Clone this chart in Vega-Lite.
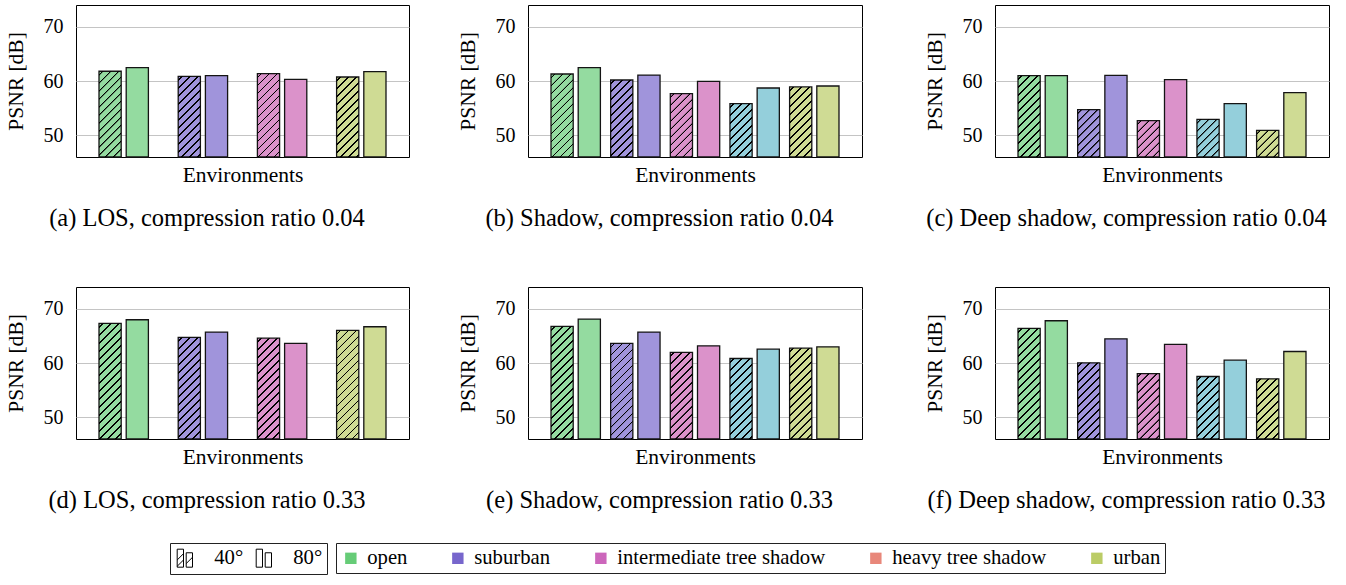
{
  "$schema": "https://vega.github.io/schema/vega-lite/v6.json",
  "padding": {"left": 4, "right": 5, "top": 4, "bottom": 5},
  "background": "white",
  "data": {"values": [
    {"p": "a", "env": "open", "ang": "40°", "v": 61.8},
    {"p": "a", "env": "open", "ang": "80°", "v": 62.45},
    {"p": "a", "env": "suburban", "ang": "40°", "v": 60.86},
    {"p": "a", "env": "suburban", "ang": "80°", "v": 60.98},
    {"p": "a", "env": "intermediate tree shadow", "ang": "40°", "v": 61.35},
    {"p": "a", "env": "intermediate tree shadow", "ang": "80°", "v": 60.31},
    {"p": "a", "env": "urban", "ang": "40°", "v": 60.74},
    {"p": "a", "env": "urban", "ang": "80°", "v": 61.72},
    {"p": "b", "env": "open", "ang": "40°", "v": 61.29},
    {"p": "b", "env": "open", "ang": "80°", "v": 62.45},
    {"p": "b", "env": "suburban", "ang": "40°", "v": 60.18},
    {"p": "b", "env": "suburban", "ang": "80°", "v": 61.1},
    {"p": "b", "env": "intermediate tree shadow", "ang": "40°", "v": 57.67},
    {"p": "b", "env": "intermediate tree shadow", "ang": "80°", "v": 59.94},
    {"p": "b", "env": "heavy tree shadow", "ang": "40°", "v": 55.83},
    {"p": "b", "env": "heavy tree shadow", "ang": "80°", "v": 58.71},
    {"p": "b", "env": "urban", "ang": "40°", "v": 58.9},
    {"p": "b", "env": "urban", "ang": "80°", "v": 59.08},
    {"p": "c", "env": "open", "ang": "40°", "v": 60.98},
    {"p": "c", "env": "open", "ang": "80°", "v": 60.98},
    {"p": "c", "env": "suburban", "ang": "40°", "v": 54.72},
    {"p": "c", "env": "suburban", "ang": "80°", "v": 61.04},
    {"p": "c", "env": "intermediate tree shadow", "ang": "40°", "v": 52.7},
    {"p": "c", "env": "intermediate tree shadow", "ang": "80°", "v": 60.25},
    {"p": "c", "env": "heavy tree shadow", "ang": "40°", "v": 52.94},
    {"p": "c", "env": "heavy tree shadow", "ang": "80°", "v": 55.83},
    {"p": "c", "env": "urban", "ang": "40°", "v": 50.92},
    {"p": "c", "env": "urban", "ang": "80°", "v": 57.85},
    {"p": "d", "env": "open", "ang": "40°", "v": 67.29},
    {"p": "d", "env": "open", "ang": "80°", "v": 67.97},
    {"p": "d", "env": "suburban", "ang": "40°", "v": 64.71},
    {"p": "d", "env": "suburban", "ang": "80°", "v": 65.69},
    {"p": "d", "env": "intermediate tree shadow", "ang": "40°", "v": 64.58},
    {"p": "d", "env": "intermediate tree shadow", "ang": "80°", "v": 63.6},
    {"p": "d", "env": "urban", "ang": "40°", "v": 66.0},
    {"p": "d", "env": "urban", "ang": "80°", "v": 66.68},
    {"p": "e", "env": "open", "ang": "40°", "v": 66.74},
    {"p": "e", "env": "open", "ang": "80°", "v": 68.09},
    {"p": "e", "env": "suburban", "ang": "40°", "v": 63.6},
    {"p": "e", "env": "suburban", "ang": "80°", "v": 65.69},
    {"p": "e", "env": "intermediate tree shadow", "ang": "40°", "v": 61.94},
    {"p": "e", "env": "intermediate tree shadow", "ang": "80°", "v": 63.17},
    {"p": "e", "env": "heavy tree shadow", "ang": "40°", "v": 60.83},
    {"p": "e", "env": "heavy tree shadow", "ang": "80°", "v": 62.55},
    {"p": "e", "env": "urban", "ang": "40°", "v": 62.74},
    {"p": "e", "env": "urban", "ang": "80°", "v": 62.98},
    {"p": "f", "env": "open", "ang": "40°", "v": 66.37},
    {"p": "f", "env": "open", "ang": "80°", "v": 67.78},
    {"p": "f", "env": "suburban", "ang": "40°", "v": 60.03},
    {"p": "f", "env": "suburban", "ang": "80°", "v": 64.46},
    {"p": "f", "env": "intermediate tree shadow", "ang": "40°", "v": 58.06},
    {"p": "f", "env": "intermediate tree shadow", "ang": "80°", "v": 63.42},
    {"p": "f", "env": "heavy tree shadow", "ang": "40°", "v": 57.51},
    {"p": "f", "env": "heavy tree shadow", "ang": "80°", "v": 60.52},
    {"p": "f", "env": "urban", "ang": "40°", "v": 57.08},
    {"p": "f", "env": "urban", "ang": "80°", "v": 62.12}
  ]},
  "vconcat": [
    {"hconcat": [
      {"hconcat": [
        {
          "width": 333, "height": 152,
          "title": "(a) LOS, compression ratio 0.04",
          "transform": [{"filter": "datum.p === 'a'"}],
          "encoding": {
            "x": {"field": "env", "type": "nominal", "sort": null, "scale": {"domain": ["open", "suburban", "intermediate tree shadow", "urban"], "paddingInner": 0.3763, "paddingOuter": 0.2904}, "axis": {"title": "Environments", "labels": false, "ticks": false, "domain": false, "grid": false}},
            "xOffset": {"field": "ang", "type": "nominal", "scale": {"domain": ["40°", "80°"], "paddingInner": 0.184, "paddingOuter": 0}}
          },
          "layer": [
            {"mark": {"type": "bar", "stroke": "#141414", "strokeWidth": 1.3},
             "encoding": {
               "y": {"field": "v", "type": "quantitative", "scale": {"domain": [46, 74], "nice": false, "zero": false}, "axis": {"title": "PSNR [dB]", "values": [50, 60, 70]}},
               "y2": {"datum": 46},
               "fill": {"condition": [{"test": "datum.env === 'open'", "value": "#94dba0"}, {"test": "datum.env === 'suburban'", "value": "#a094db"}, {"test": "datum.env === 'intermediate tree shadow'", "value": "#db92ca"}, {"test": "datum.env === 'heavy tree shadow'", "value": "#94cfdb"}], "value": "#cfdb94"}
             }},
            {"transform": [{"filter": "datum.ang === '40°'"}],
             "mark": {"type": "bar", "clip": true, "y2Offset": 125, "strokeWidth": 0, "fill": {"gradient": "linear", "x1": 0, "y1": 0, "x2": 0.2029, "y2": 1.1416, "stops": [
        {"offset": 0.020, "color": "rgba(0,0,0,0)"}, {"offset": 0.022, "color": "#000"}, {"offset": 0.031, "color": "#000"}, {"offset": 0.033, "color": "rgba(0,0,0,0)"},
        {"offset": 0.0744, "color": "rgba(0,0,0,0)"}, {"offset": 0.0764, "color": "#000"}, {"offset": 0.0854, "color": "#000"}, {"offset": 0.0874, "color": "rgba(0,0,0,0)"},
        {"offset": 0.1288, "color": "rgba(0,0,0,0)"}, {"offset": 0.1308, "color": "#000"}, {"offset": 0.1398, "color": "#000"}, {"offset": 0.1418, "color": "rgba(0,0,0,0)"},
        {"offset": 0.1832, "color": "rgba(0,0,0,0)"}, {"offset": 0.1852, "color": "#000"}, {"offset": 0.1942, "color": "#000"}, {"offset": 0.1962, "color": "rgba(0,0,0,0)"},
        {"offset": 0.2376, "color": "rgba(0,0,0,0)"}, {"offset": 0.2396, "color": "#000"}, {"offset": 0.2486, "color": "#000"}, {"offset": 0.2506, "color": "rgba(0,0,0,0)"},
        {"offset": 0.2920, "color": "rgba(0,0,0,0)"}, {"offset": 0.2940, "color": "#000"}, {"offset": 0.3030, "color": "#000"}, {"offset": 0.3050, "color": "rgba(0,0,0,0)"},
        {"offset": 0.3464, "color": "rgba(0,0,0,0)"}, {"offset": 0.3484, "color": "#000"}, {"offset": 0.3574, "color": "#000"}, {"offset": 0.3594, "color": "rgba(0,0,0,0)"},
        {"offset": 0.4008, "color": "rgba(0,0,0,0)"}, {"offset": 0.4028, "color": "#000"}, {"offset": 0.4118, "color": "#000"}, {"offset": 0.4138, "color": "rgba(0,0,0,0)"},
        {"offset": 0.4552, "color": "rgba(0,0,0,0)"}, {"offset": 0.4572, "color": "#000"}, {"offset": 0.4662, "color": "#000"}, {"offset": 0.4682, "color": "rgba(0,0,0,0)"},
        {"offset": 0.5096, "color": "rgba(0,0,0,0)"}, {"offset": 0.5116, "color": "#000"}, {"offset": 0.5206, "color": "#000"}, {"offset": 0.5226, "color": "rgba(0,0,0,0)"},
        {"offset": 0.5640, "color": "rgba(0,0,0,0)"}, {"offset": 0.5660, "color": "#000"}, {"offset": 0.5750, "color": "#000"}, {"offset": 0.5770, "color": "rgba(0,0,0,0)"},
        {"offset": 0.6184, "color": "rgba(0,0,0,0)"}, {"offset": 0.6204, "color": "#000"}, {"offset": 0.6294, "color": "#000"}, {"offset": 0.6314, "color": "rgba(0,0,0,0)"},
        {"offset": 0.6728, "color": "rgba(0,0,0,0)"}, {"offset": 0.6748, "color": "#000"}, {"offset": 0.6838, "color": "#000"}, {"offset": 0.6858, "color": "rgba(0,0,0,0)"},
        {"offset": 0.7272, "color": "rgba(0,0,0,0)"}, {"offset": 0.7292, "color": "#000"}, {"offset": 0.7382, "color": "#000"}, {"offset": 0.7402, "color": "rgba(0,0,0,0)"},
        {"offset": 0.7816, "color": "rgba(0,0,0,0)"}, {"offset": 0.7836, "color": "#000"}, {"offset": 0.7926, "color": "#000"}, {"offset": 0.7946, "color": "rgba(0,0,0,0)"},
        {"offset": 0.8360, "color": "rgba(0,0,0,0)"}, {"offset": 0.8380, "color": "#000"}, {"offset": 0.8470, "color": "#000"}, {"offset": 0.8490, "color": "rgba(0,0,0,0)"},
        {"offset": 0.8904, "color": "rgba(0,0,0,0)"}, {"offset": 0.8924, "color": "#000"}, {"offset": 0.9014, "color": "#000"}, {"offset": 0.9034, "color": "rgba(0,0,0,0)"},
        {"offset": 0.9448, "color": "rgba(0,0,0,0)"}, {"offset": 0.9468, "color": "#000"}, {"offset": 0.9558, "color": "#000"}, {"offset": 0.9578, "color": "rgba(0,0,0,0)"}
             ]}},
             "encoding": {"y": {"field": "v", "type": "quantitative"}, "y2": {"field": "v"}}},
            {"mark": {"type": "point", "opacity": 0, "size": 324, "color": "black", "strokeWidth": 1},
             "encoding": {"shape": {"field": "ang", "type": "nominal", "scale": {"domain": ["40°", "80°"], "range": ["M-0.85,-1H-0.15V1H-0.85ZM0.15,-0.6H0.85V1H0.15ZM-0.85,0.2L-0.15,-0.5M-0.85,0.9L-0.15,0.2M0.15,0.6L0.85,-0.1", "M-0.85,-1H-0.15V1H-0.85ZM0.15,-0.6H0.85V1H0.15Z"]}, "legend": {"title": null, "symbolSize": 324, "labelOffset": 19, "columnPadding": 10, "symbolStrokeColor": "black", "symbolStrokeWidth": 1}}}}
          ]
        },
        {
          "width": 334, "height": 152,
          "title": "(b) Shadow, compression ratio 0.04",
          "transform": [{"filter": "datum.p === 'b'"}],
          "encoding": {
            "x": {"field": "env", "type": "nominal", "sort": null, "scale": {"domain": ["open", "suburban", "intermediate tree shadow", "heavy tree shadow", "urban"], "paddingInner": 0.1718, "paddingOuter": 0.3856}, "axis": {"title": "Environments", "labels": false, "ticks": false, "domain": false, "grid": false}},
            "xOffset": {"field": "ang", "type": "nominal", "scale": {"domain": ["40°", "80°"], "paddingInner": 0.184, "paddingOuter": 0}}
          },
          "layer": [
            {"mark": {"type": "bar", "stroke": "#141414", "strokeWidth": 1.3},
             "encoding": {
               "y": {"field": "v", "type": "quantitative", "scale": {"domain": [46, 74], "nice": false, "zero": false}, "axis": {"title": "PSNR [dB]", "values": [50, 60, 70]}},
               "y2": {"datum": 46},
               "fill": {"condition": [{"test": "datum.env === 'open'", "value": "#94dba0"}, {"test": "datum.env === 'suburban'", "value": "#a094db"}, {"test": "datum.env === 'intermediate tree shadow'", "value": "#db92ca"}, {"test": "datum.env === 'heavy tree shadow'", "value": "#94cfdb"}], "value": "#cfdb94"}
             }},
            {"transform": [{"filter": "datum.ang === '40°'"}],
             "mark": {"type": "bar", "clip": true, "y2Offset": 125, "strokeWidth": 0, "fill": {"gradient": "linear", "x1": 0, "y1": 0, "x2": 0.2029, "y2": 1.1416, "stops": [
        {"offset": 0.020, "color": "rgba(0,0,0,0)"}, {"offset": 0.022, "color": "#000"}, {"offset": 0.031, "color": "#000"}, {"offset": 0.033, "color": "rgba(0,0,0,0)"},
        {"offset": 0.0744, "color": "rgba(0,0,0,0)"}, {"offset": 0.0764, "color": "#000"}, {"offset": 0.0854, "color": "#000"}, {"offset": 0.0874, "color": "rgba(0,0,0,0)"},
        {"offset": 0.1288, "color": "rgba(0,0,0,0)"}, {"offset": 0.1308, "color": "#000"}, {"offset": 0.1398, "color": "#000"}, {"offset": 0.1418, "color": "rgba(0,0,0,0)"},
        {"offset": 0.1832, "color": "rgba(0,0,0,0)"}, {"offset": 0.1852, "color": "#000"}, {"offset": 0.1942, "color": "#000"}, {"offset": 0.1962, "color": "rgba(0,0,0,0)"},
        {"offset": 0.2376, "color": "rgba(0,0,0,0)"}, {"offset": 0.2396, "color": "#000"}, {"offset": 0.2486, "color": "#000"}, {"offset": 0.2506, "color": "rgba(0,0,0,0)"},
        {"offset": 0.2920, "color": "rgba(0,0,0,0)"}, {"offset": 0.2940, "color": "#000"}, {"offset": 0.3030, "color": "#000"}, {"offset": 0.3050, "color": "rgba(0,0,0,0)"},
        {"offset": 0.3464, "color": "rgba(0,0,0,0)"}, {"offset": 0.3484, "color": "#000"}, {"offset": 0.3574, "color": "#000"}, {"offset": 0.3594, "color": "rgba(0,0,0,0)"},
        {"offset": 0.4008, "color": "rgba(0,0,0,0)"}, {"offset": 0.4028, "color": "#000"}, {"offset": 0.4118, "color": "#000"}, {"offset": 0.4138, "color": "rgba(0,0,0,0)"},
        {"offset": 0.4552, "color": "rgba(0,0,0,0)"}, {"offset": 0.4572, "color": "#000"}, {"offset": 0.4662, "color": "#000"}, {"offset": 0.4682, "color": "rgba(0,0,0,0)"},
        {"offset": 0.5096, "color": "rgba(0,0,0,0)"}, {"offset": 0.5116, "color": "#000"}, {"offset": 0.5206, "color": "#000"}, {"offset": 0.5226, "color": "rgba(0,0,0,0)"},
        {"offset": 0.5640, "color": "rgba(0,0,0,0)"}, {"offset": 0.5660, "color": "#000"}, {"offset": 0.5750, "color": "#000"}, {"offset": 0.5770, "color": "rgba(0,0,0,0)"},
        {"offset": 0.6184, "color": "rgba(0,0,0,0)"}, {"offset": 0.6204, "color": "#000"}, {"offset": 0.6294, "color": "#000"}, {"offset": 0.6314, "color": "rgba(0,0,0,0)"},
        {"offset": 0.6728, "color": "rgba(0,0,0,0)"}, {"offset": 0.6748, "color": "#000"}, {"offset": 0.6838, "color": "#000"}, {"offset": 0.6858, "color": "rgba(0,0,0,0)"},
        {"offset": 0.7272, "color": "rgba(0,0,0,0)"}, {"offset": 0.7292, "color": "#000"}, {"offset": 0.7382, "color": "#000"}, {"offset": 0.7402, "color": "rgba(0,0,0,0)"},
        {"offset": 0.7816, "color": "rgba(0,0,0,0)"}, {"offset": 0.7836, "color": "#000"}, {"offset": 0.7926, "color": "#000"}, {"offset": 0.7946, "color": "rgba(0,0,0,0)"},
        {"offset": 0.8360, "color": "rgba(0,0,0,0)"}, {"offset": 0.8380, "color": "#000"}, {"offset": 0.8470, "color": "#000"}, {"offset": 0.8490, "color": "rgba(0,0,0,0)"},
        {"offset": 0.8904, "color": "rgba(0,0,0,0)"}, {"offset": 0.8924, "color": "#000"}, {"offset": 0.9014, "color": "#000"}, {"offset": 0.9034, "color": "rgba(0,0,0,0)"},
        {"offset": 0.9448, "color": "rgba(0,0,0,0)"}, {"offset": 0.9468, "color": "#000"}, {"offset": 0.9558, "color": "#000"}, {"offset": 0.9578, "color": "rgba(0,0,0,0)"}
             ]}},
             "encoding": {"y": {"field": "v", "type": "quantitative"}, "y2": {"field": "v"}}},
            {"mark": {"type": "square", "opacity": 0, "size": 130, "filled": true},
             "encoding": {"color": {"field": "env", "type": "nominal", "scale": {"domain": ["open", "suburban", "intermediate tree shadow", "heavy tree shadow", "urban"], "range": ["#66cc77", "#7766cc", "#cc66bb", "#e8877a", "#bbcc66"]}, "legend": {"title": null, "symbolSize": 130, "labelOffset": 6, "columnPadding": 40, "labelLimit": 0, "symbolStrokeWidth": 0}}}}
          ]
        }
      ], "spacing": 46},
      {
        "width": 334, "height": 152,
        "title": "(c) Deep shadow, compression ratio 0.04",
        "transform": [{"filter": "datum.p === 'c'"}],
        "encoding": {
          "x": {"field": "env", "type": "nominal", "sort": null, "scale": {"domain": ["open", "suburban", "intermediate tree shadow", "heavy tree shadow", "urban"], "paddingInner": 0.1718, "paddingOuter": 0.3856}, "axis": {"title": "Environments", "labels": false, "ticks": false, "domain": false, "grid": false}},
          "xOffset": {"field": "ang", "type": "nominal", "scale": {"domain": ["40°", "80°"], "paddingInner": 0.184, "paddingOuter": 0}}
        },
        "layer": [
          {"mark": {"type": "bar", "stroke": "#141414", "strokeWidth": 1.3},
           "encoding": {
             "y": {"field": "v", "type": "quantitative", "scale": {"domain": [46, 74], "nice": false, "zero": false}, "axis": {"title": "PSNR [dB]", "values": [50, 60, 70]}},
             "y2": {"datum": 46},
             "fill": {"condition": [{"test": "datum.env === 'open'", "value": "#94dba0"}, {"test": "datum.env === 'suburban'", "value": "#a094db"}, {"test": "datum.env === 'intermediate tree shadow'", "value": "#db92ca"}, {"test": "datum.env === 'heavy tree shadow'", "value": "#94cfdb"}], "value": "#cfdb94"}
           }},
          {"transform": [{"filter": "datum.ang === '40°'"}],
           "mark": {"type": "bar", "clip": true, "y2Offset": 125, "strokeWidth": 0, "fill": {"gradient": "linear", "x1": 0, "y1": 0, "x2": 0.2029, "y2": 1.1416, "stops": [
        {"offset": 0.020, "color": "rgba(0,0,0,0)"}, {"offset": 0.022, "color": "#000"}, {"offset": 0.031, "color": "#000"}, {"offset": 0.033, "color": "rgba(0,0,0,0)"},
        {"offset": 0.0744, "color": "rgba(0,0,0,0)"}, {"offset": 0.0764, "color": "#000"}, {"offset": 0.0854, "color": "#000"}, {"offset": 0.0874, "color": "rgba(0,0,0,0)"},
        {"offset": 0.1288, "color": "rgba(0,0,0,0)"}, {"offset": 0.1308, "color": "#000"}, {"offset": 0.1398, "color": "#000"}, {"offset": 0.1418, "color": "rgba(0,0,0,0)"},
        {"offset": 0.1832, "color": "rgba(0,0,0,0)"}, {"offset": 0.1852, "color": "#000"}, {"offset": 0.1942, "color": "#000"}, {"offset": 0.1962, "color": "rgba(0,0,0,0)"},
        {"offset": 0.2376, "color": "rgba(0,0,0,0)"}, {"offset": 0.2396, "color": "#000"}, {"offset": 0.2486, "color": "#000"}, {"offset": 0.2506, "color": "rgba(0,0,0,0)"},
        {"offset": 0.2920, "color": "rgba(0,0,0,0)"}, {"offset": 0.2940, "color": "#000"}, {"offset": 0.3030, "color": "#000"}, {"offset": 0.3050, "color": "rgba(0,0,0,0)"},
        {"offset": 0.3464, "color": "rgba(0,0,0,0)"}, {"offset": 0.3484, "color": "#000"}, {"offset": 0.3574, "color": "#000"}, {"offset": 0.3594, "color": "rgba(0,0,0,0)"},
        {"offset": 0.4008, "color": "rgba(0,0,0,0)"}, {"offset": 0.4028, "color": "#000"}, {"offset": 0.4118, "color": "#000"}, {"offset": 0.4138, "color": "rgba(0,0,0,0)"},
        {"offset": 0.4552, "color": "rgba(0,0,0,0)"}, {"offset": 0.4572, "color": "#000"}, {"offset": 0.4662, "color": "#000"}, {"offset": 0.4682, "color": "rgba(0,0,0,0)"},
        {"offset": 0.5096, "color": "rgba(0,0,0,0)"}, {"offset": 0.5116, "color": "#000"}, {"offset": 0.5206, "color": "#000"}, {"offset": 0.5226, "color": "rgba(0,0,0,0)"},
        {"offset": 0.5640, "color": "rgba(0,0,0,0)"}, {"offset": 0.5660, "color": "#000"}, {"offset": 0.5750, "color": "#000"}, {"offset": 0.5770, "color": "rgba(0,0,0,0)"},
        {"offset": 0.6184, "color": "rgba(0,0,0,0)"}, {"offset": 0.6204, "color": "#000"}, {"offset": 0.6294, "color": "#000"}, {"offset": 0.6314, "color": "rgba(0,0,0,0)"},
        {"offset": 0.6728, "color": "rgba(0,0,0,0)"}, {"offset": 0.6748, "color": "#000"}, {"offset": 0.6838, "color": "#000"}, {"offset": 0.6858, "color": "rgba(0,0,0,0)"},
        {"offset": 0.7272, "color": "rgba(0,0,0,0)"}, {"offset": 0.7292, "color": "#000"}, {"offset": 0.7382, "color": "#000"}, {"offset": 0.7402, "color": "rgba(0,0,0,0)"},
        {"offset": 0.7816, "color": "rgba(0,0,0,0)"}, {"offset": 0.7836, "color": "#000"}, {"offset": 0.7926, "color": "#000"}, {"offset": 0.7946, "color": "rgba(0,0,0,0)"},
        {"offset": 0.8360, "color": "rgba(0,0,0,0)"}, {"offset": 0.8380, "color": "#000"}, {"offset": 0.8470, "color": "#000"}, {"offset": 0.8490, "color": "rgba(0,0,0,0)"},
        {"offset": 0.8904, "color": "rgba(0,0,0,0)"}, {"offset": 0.8924, "color": "#000"}, {"offset": 0.9014, "color": "#000"}, {"offset": 0.9034, "color": "rgba(0,0,0,0)"},
        {"offset": 0.9448, "color": "rgba(0,0,0,0)"}, {"offset": 0.9468, "color": "#000"}, {"offset": 0.9558, "color": "#000"}, {"offset": 0.9578, "color": "rgba(0,0,0,0)"}
           ]}},
           "encoding": {"y": {"field": "v", "type": "quantitative"}, "y2": {"field": "v"}}}
        ]
      }
    ], "spacing": 60},
    {"hconcat": [
      {"hconcat": [
        {
          "width": 333, "height": 152,
          "title": "(d) LOS, compression ratio 0.33",
          "transform": [{"filter": "datum.p === 'd'"}],
          "encoding": {
            "x": {"field": "env", "type": "nominal", "sort": null, "scale": {"domain": ["open", "suburban", "intermediate tree shadow", "urban"], "paddingInner": 0.3763, "paddingOuter": 0.2904}, "axis": {"title": "Environments", "labels": false, "ticks": false, "domain": false, "grid": false}},
            "xOffset": {"field": "ang", "type": "nominal", "scale": {"domain": ["40°", "80°"], "paddingInner": 0.184, "paddingOuter": 0}}
          },
          "layer": [
            {"mark": {"type": "bar", "stroke": "#141414", "strokeWidth": 1.3},
             "encoding": {
               "y": {"field": "v", "type": "quantitative", "scale": {"domain": [46, 74], "nice": false, "zero": false}, "axis": {"title": "PSNR [dB]", "values": [50, 60, 70]}},
               "y2": {"datum": 46},
               "fill": {"condition": [{"test": "datum.env === 'open'", "value": "#94dba0"}, {"test": "datum.env === 'suburban'", "value": "#a094db"}, {"test": "datum.env === 'intermediate tree shadow'", "value": "#db92ca"}, {"test": "datum.env === 'heavy tree shadow'", "value": "#94cfdb"}], "value": "#cfdb94"}
             }},
            {"transform": [{"filter": "datum.ang === '40°'"}],
             "mark": {"type": "bar", "clip": true, "y2Offset": 125, "strokeWidth": 0, "fill": {"gradient": "linear", "x1": 0, "y1": 0, "x2": 0.2029, "y2": 1.1416, "stops": [
        {"offset": 0.020, "color": "rgba(0,0,0,0)"}, {"offset": 0.022, "color": "#000"}, {"offset": 0.031, "color": "#000"}, {"offset": 0.033, "color": "rgba(0,0,0,0)"},
        {"offset": 0.0744, "color": "rgba(0,0,0,0)"}, {"offset": 0.0764, "color": "#000"}, {"offset": 0.0854, "color": "#000"}, {"offset": 0.0874, "color": "rgba(0,0,0,0)"},
        {"offset": 0.1288, "color": "rgba(0,0,0,0)"}, {"offset": 0.1308, "color": "#000"}, {"offset": 0.1398, "color": "#000"}, {"offset": 0.1418, "color": "rgba(0,0,0,0)"},
        {"offset": 0.1832, "color": "rgba(0,0,0,0)"}, {"offset": 0.1852, "color": "#000"}, {"offset": 0.1942, "color": "#000"}, {"offset": 0.1962, "color": "rgba(0,0,0,0)"},
        {"offset": 0.2376, "color": "rgba(0,0,0,0)"}, {"offset": 0.2396, "color": "#000"}, {"offset": 0.2486, "color": "#000"}, {"offset": 0.2506, "color": "rgba(0,0,0,0)"},
        {"offset": 0.2920, "color": "rgba(0,0,0,0)"}, {"offset": 0.2940, "color": "#000"}, {"offset": 0.3030, "color": "#000"}, {"offset": 0.3050, "color": "rgba(0,0,0,0)"},
        {"offset": 0.3464, "color": "rgba(0,0,0,0)"}, {"offset": 0.3484, "color": "#000"}, {"offset": 0.3574, "color": "#000"}, {"offset": 0.3594, "color": "rgba(0,0,0,0)"},
        {"offset": 0.4008, "color": "rgba(0,0,0,0)"}, {"offset": 0.4028, "color": "#000"}, {"offset": 0.4118, "color": "#000"}, {"offset": 0.4138, "color": "rgba(0,0,0,0)"},
        {"offset": 0.4552, "color": "rgba(0,0,0,0)"}, {"offset": 0.4572, "color": "#000"}, {"offset": 0.4662, "color": "#000"}, {"offset": 0.4682, "color": "rgba(0,0,0,0)"},
        {"offset": 0.5096, "color": "rgba(0,0,0,0)"}, {"offset": 0.5116, "color": "#000"}, {"offset": 0.5206, "color": "#000"}, {"offset": 0.5226, "color": "rgba(0,0,0,0)"},
        {"offset": 0.5640, "color": "rgba(0,0,0,0)"}, {"offset": 0.5660, "color": "#000"}, {"offset": 0.5750, "color": "#000"}, {"offset": 0.5770, "color": "rgba(0,0,0,0)"},
        {"offset": 0.6184, "color": "rgba(0,0,0,0)"}, {"offset": 0.6204, "color": "#000"}, {"offset": 0.6294, "color": "#000"}, {"offset": 0.6314, "color": "rgba(0,0,0,0)"},
        {"offset": 0.6728, "color": "rgba(0,0,0,0)"}, {"offset": 0.6748, "color": "#000"}, {"offset": 0.6838, "color": "#000"}, {"offset": 0.6858, "color": "rgba(0,0,0,0)"},
        {"offset": 0.7272, "color": "rgba(0,0,0,0)"}, {"offset": 0.7292, "color": "#000"}, {"offset": 0.7382, "color": "#000"}, {"offset": 0.7402, "color": "rgba(0,0,0,0)"},
        {"offset": 0.7816, "color": "rgba(0,0,0,0)"}, {"offset": 0.7836, "color": "#000"}, {"offset": 0.7926, "color": "#000"}, {"offset": 0.7946, "color": "rgba(0,0,0,0)"},
        {"offset": 0.8360, "color": "rgba(0,0,0,0)"}, {"offset": 0.8380, "color": "#000"}, {"offset": 0.8470, "color": "#000"}, {"offset": 0.8490, "color": "rgba(0,0,0,0)"},
        {"offset": 0.8904, "color": "rgba(0,0,0,0)"}, {"offset": 0.8924, "color": "#000"}, {"offset": 0.9014, "color": "#000"}, {"offset": 0.9034, "color": "rgba(0,0,0,0)"},
        {"offset": 0.9448, "color": "rgba(0,0,0,0)"}, {"offset": 0.9468, "color": "#000"}, {"offset": 0.9558, "color": "#000"}, {"offset": 0.9578, "color": "rgba(0,0,0,0)"}
             ]}},
             "encoding": {"y": {"field": "v", "type": "quantitative"}, "y2": {"field": "v"}}}
          ]
        },
        {
          "width": 334, "height": 152,
          "title": "(e) Shadow, compression ratio 0.33",
          "transform": [{"filter": "datum.p === 'e'"}],
          "encoding": {
            "x": {"field": "env", "type": "nominal", "sort": null, "scale": {"domain": ["open", "suburban", "intermediate tree shadow", "heavy tree shadow", "urban"], "paddingInner": 0.1718, "paddingOuter": 0.3856}, "axis": {"title": "Environments", "labels": false, "ticks": false, "domain": false, "grid": false}},
            "xOffset": {"field": "ang", "type": "nominal", "scale": {"domain": ["40°", "80°"], "paddingInner": 0.184, "paddingOuter": 0}}
          },
          "layer": [
            {"mark": {"type": "bar", "stroke": "#141414", "strokeWidth": 1.3},
             "encoding": {
               "y": {"field": "v", "type": "quantitative", "scale": {"domain": [46, 74], "nice": false, "zero": false}, "axis": {"title": "PSNR [dB]", "values": [50, 60, 70]}},
               "y2": {"datum": 46},
               "fill": {"condition": [{"test": "datum.env === 'open'", "value": "#94dba0"}, {"test": "datum.env === 'suburban'", "value": "#a094db"}, {"test": "datum.env === 'intermediate tree shadow'", "value": "#db92ca"}, {"test": "datum.env === 'heavy tree shadow'", "value": "#94cfdb"}], "value": "#cfdb94"}
             }},
            {"transform": [{"filter": "datum.ang === '40°'"}],
             "mark": {"type": "bar", "clip": true, "y2Offset": 125, "strokeWidth": 0, "fill": {"gradient": "linear", "x1": 0, "y1": 0, "x2": 0.2029, "y2": 1.1416, "stops": [
        {"offset": 0.020, "color": "rgba(0,0,0,0)"}, {"offset": 0.022, "color": "#000"}, {"offset": 0.031, "color": "#000"}, {"offset": 0.033, "color": "rgba(0,0,0,0)"},
        {"offset": 0.0744, "color": "rgba(0,0,0,0)"}, {"offset": 0.0764, "color": "#000"}, {"offset": 0.0854, "color": "#000"}, {"offset": 0.0874, "color": "rgba(0,0,0,0)"},
        {"offset": 0.1288, "color": "rgba(0,0,0,0)"}, {"offset": 0.1308, "color": "#000"}, {"offset": 0.1398, "color": "#000"}, {"offset": 0.1418, "color": "rgba(0,0,0,0)"},
        {"offset": 0.1832, "color": "rgba(0,0,0,0)"}, {"offset": 0.1852, "color": "#000"}, {"offset": 0.1942, "color": "#000"}, {"offset": 0.1962, "color": "rgba(0,0,0,0)"},
        {"offset": 0.2376, "color": "rgba(0,0,0,0)"}, {"offset": 0.2396, "color": "#000"}, {"offset": 0.2486, "color": "#000"}, {"offset": 0.2506, "color": "rgba(0,0,0,0)"},
        {"offset": 0.2920, "color": "rgba(0,0,0,0)"}, {"offset": 0.2940, "color": "#000"}, {"offset": 0.3030, "color": "#000"}, {"offset": 0.3050, "color": "rgba(0,0,0,0)"},
        {"offset": 0.3464, "color": "rgba(0,0,0,0)"}, {"offset": 0.3484, "color": "#000"}, {"offset": 0.3574, "color": "#000"}, {"offset": 0.3594, "color": "rgba(0,0,0,0)"},
        {"offset": 0.4008, "color": "rgba(0,0,0,0)"}, {"offset": 0.4028, "color": "#000"}, {"offset": 0.4118, "color": "#000"}, {"offset": 0.4138, "color": "rgba(0,0,0,0)"},
        {"offset": 0.4552, "color": "rgba(0,0,0,0)"}, {"offset": 0.4572, "color": "#000"}, {"offset": 0.4662, "color": "#000"}, {"offset": 0.4682, "color": "rgba(0,0,0,0)"},
        {"offset": 0.5096, "color": "rgba(0,0,0,0)"}, {"offset": 0.5116, "color": "#000"}, {"offset": 0.5206, "color": "#000"}, {"offset": 0.5226, "color": "rgba(0,0,0,0)"},
        {"offset": 0.5640, "color": "rgba(0,0,0,0)"}, {"offset": 0.5660, "color": "#000"}, {"offset": 0.5750, "color": "#000"}, {"offset": 0.5770, "color": "rgba(0,0,0,0)"},
        {"offset": 0.6184, "color": "rgba(0,0,0,0)"}, {"offset": 0.6204, "color": "#000"}, {"offset": 0.6294, "color": "#000"}, {"offset": 0.6314, "color": "rgba(0,0,0,0)"},
        {"offset": 0.6728, "color": "rgba(0,0,0,0)"}, {"offset": 0.6748, "color": "#000"}, {"offset": 0.6838, "color": "#000"}, {"offset": 0.6858, "color": "rgba(0,0,0,0)"},
        {"offset": 0.7272, "color": "rgba(0,0,0,0)"}, {"offset": 0.7292, "color": "#000"}, {"offset": 0.7382, "color": "#000"}, {"offset": 0.7402, "color": "rgba(0,0,0,0)"},
        {"offset": 0.7816, "color": "rgba(0,0,0,0)"}, {"offset": 0.7836, "color": "#000"}, {"offset": 0.7926, "color": "#000"}, {"offset": 0.7946, "color": "rgba(0,0,0,0)"},
        {"offset": 0.8360, "color": "rgba(0,0,0,0)"}, {"offset": 0.8380, "color": "#000"}, {"offset": 0.8470, "color": "#000"}, {"offset": 0.8490, "color": "rgba(0,0,0,0)"},
        {"offset": 0.8904, "color": "rgba(0,0,0,0)"}, {"offset": 0.8924, "color": "#000"}, {"offset": 0.9014, "color": "#000"}, {"offset": 0.9034, "color": "rgba(0,0,0,0)"},
        {"offset": 0.9448, "color": "rgba(0,0,0,0)"}, {"offset": 0.9468, "color": "#000"}, {"offset": 0.9558, "color": "#000"}, {"offset": 0.9578, "color": "rgba(0,0,0,0)"}
             ]}},
             "encoding": {"y": {"field": "v", "type": "quantitative"}, "y2": {"field": "v"}}}
          ]
        }
      ], "spacing": 46},
      {
        "width": 334, "height": 152,
        "title": "(f) Deep shadow, compression ratio 0.33",
        "transform": [{"filter": "datum.p === 'f'"}],
        "encoding": {
          "x": {"field": "env", "type": "nominal", "sort": null, "scale": {"domain": ["open", "suburban", "intermediate tree shadow", "heavy tree shadow", "urban"], "paddingInner": 0.1718, "paddingOuter": 0.3856}, "axis": {"title": "Environments", "labels": false, "ticks": false, "domain": false, "grid": false}},
          "xOffset": {"field": "ang", "type": "nominal", "scale": {"domain": ["40°", "80°"], "paddingInner": 0.184, "paddingOuter": 0}}
        },
        "layer": [
          {"mark": {"type": "bar", "stroke": "#141414", "strokeWidth": 1.3},
           "encoding": {
             "y": {"field": "v", "type": "quantitative", "scale": {"domain": [46, 74], "nice": false, "zero": false}, "axis": {"title": "PSNR [dB]", "values": [50, 60, 70]}},
             "y2": {"datum": 46},
             "fill": {"condition": [{"test": "datum.env === 'open'", "value": "#94dba0"}, {"test": "datum.env === 'suburban'", "value": "#a094db"}, {"test": "datum.env === 'intermediate tree shadow'", "value": "#db92ca"}, {"test": "datum.env === 'heavy tree shadow'", "value": "#94cfdb"}], "value": "#cfdb94"}
           }},
          {"transform": [{"filter": "datum.ang === '40°'"}],
           "mark": {"type": "bar", "clip": true, "y2Offset": 125, "strokeWidth": 0, "fill": {"gradient": "linear", "x1": 0, "y1": 0, "x2": 0.2029, "y2": 1.1416, "stops": [
        {"offset": 0.020, "color": "rgba(0,0,0,0)"}, {"offset": 0.022, "color": "#000"}, {"offset": 0.031, "color": "#000"}, {"offset": 0.033, "color": "rgba(0,0,0,0)"},
        {"offset": 0.0744, "color": "rgba(0,0,0,0)"}, {"offset": 0.0764, "color": "#000"}, {"offset": 0.0854, "color": "#000"}, {"offset": 0.0874, "color": "rgba(0,0,0,0)"},
        {"offset": 0.1288, "color": "rgba(0,0,0,0)"}, {"offset": 0.1308, "color": "#000"}, {"offset": 0.1398, "color": "#000"}, {"offset": 0.1418, "color": "rgba(0,0,0,0)"},
        {"offset": 0.1832, "color": "rgba(0,0,0,0)"}, {"offset": 0.1852, "color": "#000"}, {"offset": 0.1942, "color": "#000"}, {"offset": 0.1962, "color": "rgba(0,0,0,0)"},
        {"offset": 0.2376, "color": "rgba(0,0,0,0)"}, {"offset": 0.2396, "color": "#000"}, {"offset": 0.2486, "color": "#000"}, {"offset": 0.2506, "color": "rgba(0,0,0,0)"},
        {"offset": 0.2920, "color": "rgba(0,0,0,0)"}, {"offset": 0.2940, "color": "#000"}, {"offset": 0.3030, "color": "#000"}, {"offset": 0.3050, "color": "rgba(0,0,0,0)"},
        {"offset": 0.3464, "color": "rgba(0,0,0,0)"}, {"offset": 0.3484, "color": "#000"}, {"offset": 0.3574, "color": "#000"}, {"offset": 0.3594, "color": "rgba(0,0,0,0)"},
        {"offset": 0.4008, "color": "rgba(0,0,0,0)"}, {"offset": 0.4028, "color": "#000"}, {"offset": 0.4118, "color": "#000"}, {"offset": 0.4138, "color": "rgba(0,0,0,0)"},
        {"offset": 0.4552, "color": "rgba(0,0,0,0)"}, {"offset": 0.4572, "color": "#000"}, {"offset": 0.4662, "color": "#000"}, {"offset": 0.4682, "color": "rgba(0,0,0,0)"},
        {"offset": 0.5096, "color": "rgba(0,0,0,0)"}, {"offset": 0.5116, "color": "#000"}, {"offset": 0.5206, "color": "#000"}, {"offset": 0.5226, "color": "rgba(0,0,0,0)"},
        {"offset": 0.5640, "color": "rgba(0,0,0,0)"}, {"offset": 0.5660, "color": "#000"}, {"offset": 0.5750, "color": "#000"}, {"offset": 0.5770, "color": "rgba(0,0,0,0)"},
        {"offset": 0.6184, "color": "rgba(0,0,0,0)"}, {"offset": 0.6204, "color": "#000"}, {"offset": 0.6294, "color": "#000"}, {"offset": 0.6314, "color": "rgba(0,0,0,0)"},
        {"offset": 0.6728, "color": "rgba(0,0,0,0)"}, {"offset": 0.6748, "color": "#000"}, {"offset": 0.6838, "color": "#000"}, {"offset": 0.6858, "color": "rgba(0,0,0,0)"},
        {"offset": 0.7272, "color": "rgba(0,0,0,0)"}, {"offset": 0.7292, "color": "#000"}, {"offset": 0.7382, "color": "#000"}, {"offset": 0.7402, "color": "rgba(0,0,0,0)"},
        {"offset": 0.7816, "color": "rgba(0,0,0,0)"}, {"offset": 0.7836, "color": "#000"}, {"offset": 0.7926, "color": "#000"}, {"offset": 0.7946, "color": "rgba(0,0,0,0)"},
        {"offset": 0.8360, "color": "rgba(0,0,0,0)"}, {"offset": 0.8380, "color": "#000"}, {"offset": 0.8470, "color": "#000"}, {"offset": 0.8490, "color": "rgba(0,0,0,0)"},
        {"offset": 0.8904, "color": "rgba(0,0,0,0)"}, {"offset": 0.8924, "color": "#000"}, {"offset": 0.9014, "color": "#000"}, {"offset": 0.9034, "color": "rgba(0,0,0,0)"},
        {"offset": 0.9448, "color": "rgba(0,0,0,0)"}, {"offset": 0.9468, "color": "#000"}, {"offset": 0.9558, "color": "#000"}, {"offset": 0.9578, "color": "rgba(0,0,0,0)"}
           ]}},
           "encoding": {"y": {"field": "v", "type": "quantitative"}, "y2": {"field": "v"}}}
        ]
      }
    ], "spacing": 60}
  ],
  "spacing": 55,
  "resolve": {"scale": {"x": "independent", "y": "independent", "xOffset": "independent"}},
  "config": {
    "font": "Liberation Serif",
    "view": {"stroke": "black", "strokeWidth": 1},
    "axis": {"labelFont": "Liberation Serif", "titleFont": "Liberation Serif", "labelFontSize": 20, "titleFontSize": 21.5, "titleFontWeight": "normal", "labelColor": "black", "titleColor": "black", "domain": false, "ticks": false, "gridColor": "#c4c4c4", "gridWidth": 1},
    "axisY": {"labelPadding": 13, "titlePadding": 16},
    "axisX": {"titlePadding": 7},
    "title": {"font": "Liberation Serif", "fontSize": 24.5, "fontWeight": "normal", "color": "black", "orient": "bottom", "anchor": "middle", "frame": "bounds", "offset": 21},
    "legend": {"orient": "bottom", "direction": "horizontal", "strokeColor": "#222", "padding": 4.5, "labelFont": "Liberation Serif", "labelFontSize": 20.7, "labelColor": "black", "labelLimit": 0, "layout": {"anchor": "middle", "direction": "horizontal", "margin": 9, "offset": 30}}
  }
}
